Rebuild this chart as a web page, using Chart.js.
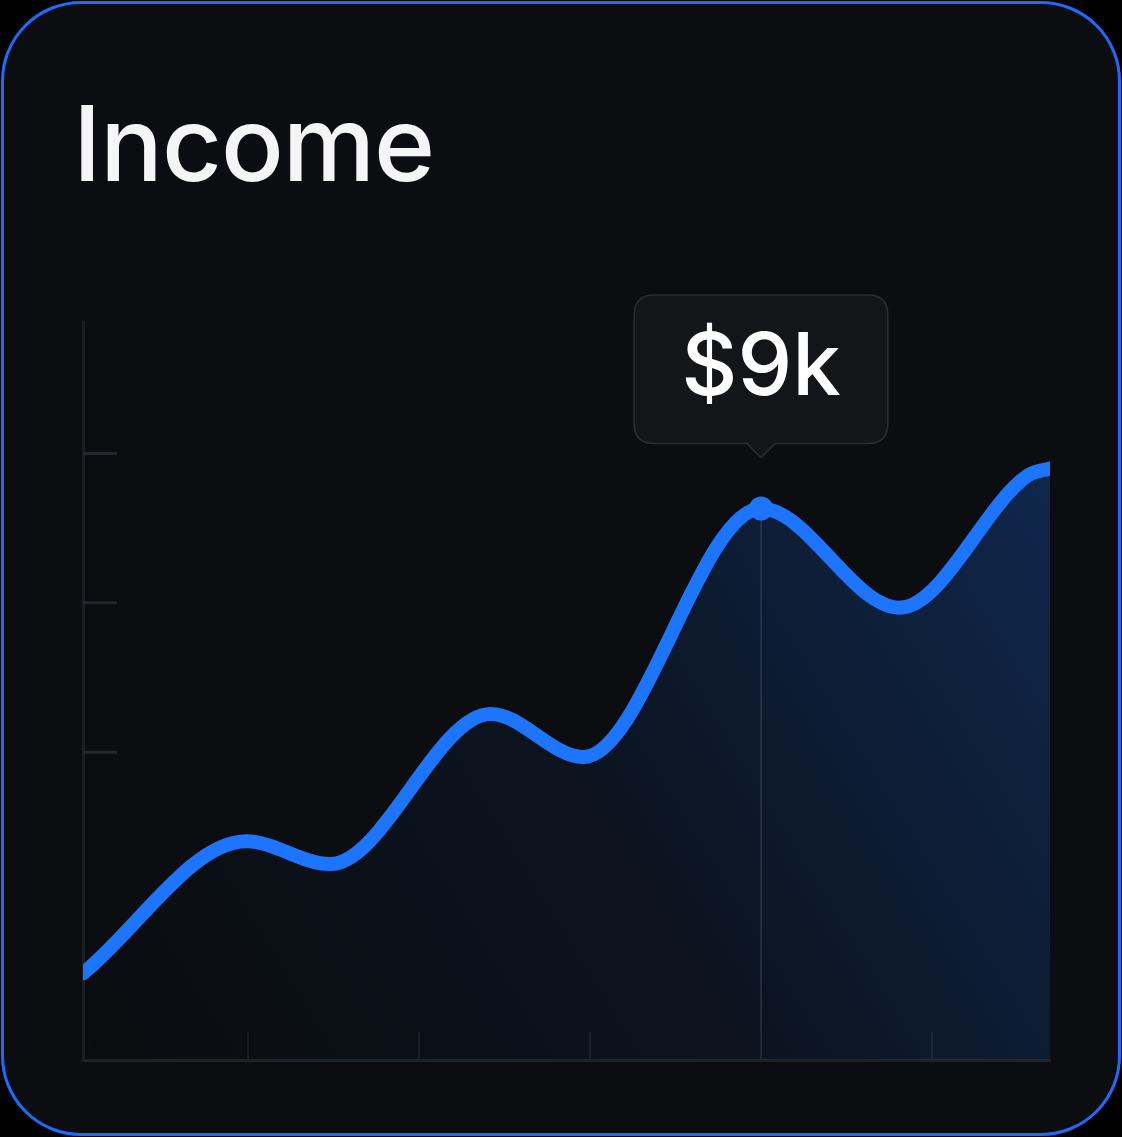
<!DOCTYPE html>
<html>
<head>
<meta charset="utf-8">
<script src="https://cdn.jsdelivr.net/npm/chart.js@4.4.1/dist/chart.umd.min.js"></script>
<style>
  html, body { margin: 0; padding: 0; background: #000; }
  #wrap { position: relative; width: 1122px; height: 1137px; overflow: hidden; }
  #card {
    position: absolute; left: 1px; top: 1px; width: 1114px; height: 1129px;
    border: 3px solid #1c6cfb; border-radius: 80px; background: #0b0d10;
  }
  #title {
    position: absolute; left: 73px; top: 80px; margin: 0;
    font-family: Inter, "Noto Sans", sans-serif; font-weight: 500; font-size: 104px;
    color: #f5f5f5; letter-spacing: -1px;
  }
  #box { position: absolute; left: 0; top: 0; width: 1122px; height: 1137px; }
</style>
</head>
<body>
<div id="wrap">
  <div id="card"></div>
  <div id="title">Income</div>
  <div id="box"><canvas id="incomeChart"></canvas></div>
</div>
<script>
// ================= Data =================
// x position in tick units, value in $k
const months = [0.035, 0.99, 1.48, 2.42, 2.96, 4.0, 4.81, 5.56, 5.69];
const income = [1.30, 3.51, 3.13, 5.64, 4.92, 9.08, 7.42, 9.63, 9.75];
const xTicks = [1, 2, 3, 4, 5];
const yTicks = [5, 7.5, 10];
const peakIndex = 5;

const lineBlue = '#1e75fd';

// ================= Helpers =================
// vertical marker under the peak + inward tick marks
const markerPlugin = {
    id: 'marker',
    beforeDatasetsDraw(chart) {
        const { ctx, chartArea, scales } = chart;
        const px = scales.x.getPixelForValue(months[peakIndex]);
        const py = scales.y.getPixelForValue(income[peakIndex]);
        ctx.save();
        ctx.strokeStyle = '#2a2f37';
        ctx.lineWidth = 1.5;
        ctx.beginPath();
        ctx.moveTo(px, py);
        ctx.lineTo(px, chartArea.bottom);
        ctx.stroke();

        ctx.strokeStyle = '#24272d';
        ctx.lineWidth = 3;
        yTicks.forEach(v => {
            const y = scales.y.getPixelForValue(v);
            ctx.beginPath();
            ctx.moveTo(chartArea.left, y);
            ctx.lineTo(chartArea.left + 34, y);
            ctx.stroke();
        });
        ctx.strokeStyle = '#1f2328';
        ctx.lineWidth = 1.5;
        xTicks.forEach(v => {
            const x = scales.x.getPixelForValue(v);
            ctx.beginPath();
            ctx.moveTo(x, chartArea.bottom);
            ctx.lineTo(x, chartArea.bottom - 28);
            ctx.stroke();
        });
        ctx.restore();
    }
};

// ================= Chart =================
const ctx = document.getElementById('incomeChart').getContext('2d');
const chart = new Chart(ctx, {
    type: 'line',
    data: {
        datasets: [{
            label: 'Income',
            data: months.map((m, i) => ({ x: m, y: income[i] })),
            borderColor: lineBlue,
            borderWidth: 14,
            borderCapStyle: 'round',
            borderJoinStyle: 'round',
            cubicInterpolationMode: 'monotone',
            fill: 'start',
            backgroundColor: function(context) {
                const area = context.chart.chartArea;
                if (!area) return 'rgba(30,110,240,0.1)';
                const g = context.chart.ctx.createLinearGradient(area.left, area.bottom, area.right, area.top + 140);
                g.addColorStop(0, 'rgba(30,110,240,0.0)');
                g.addColorStop(0.5, 'rgba(30,110,240,0.07)');
                g.addColorStop(1, 'rgba(30,110,240,0.27)');
                return g;
            },
            pointRadius: c => c.dataIndex === peakIndex ? 12 : 0,
            pointHoverRadius: c => c.dataIndex === peakIndex ? 12 : 0,
            pointBackgroundColor: lineBlue,
            pointHoverBackgroundColor: lineBlue,
            pointBorderWidth: 0,
            pointHoverBorderWidth: 0
        }]
    },
    options: {
        responsive: true,
        maintainAspectRatio: false,
        animation: false,
        events: [],
        layout: { padding: { left: 83, right: 72, top: 322, bottom: 77 } },
        scales: {
            x: {
                type: 'linear',
                min: months[0],
                max: months[months.length - 1],
                grid: { display: false, drawTicks: false },
                border: { display: true, color: '#1e2227', width: 3 },
                ticks: { display: false }
            },
            y: {
                min: -0.15,
                max: 12.2,
                grid: { display: false, drawTicks: false },
                border: { display: true, color: '#1b1e23', width: 3 },
                ticks: { display: false }
            }
        },
        plugins: {
            legend: { display: false },
            tooltip: {
                enabled: true,
                xAlign: 'center',
                yAlign: 'bottom',
                backgroundColor: '#131519',
                borderColor: '#2b2e34',
                borderWidth: 1.5,
                cornerRadius: 20,
                caretSize: 14,
                caretPadding: 51,
                padding: { left: 47, right: 47, top: 22, bottom: 22 },
                displayColors: false,
                bodyColor: '#ffffff',
                bodyFont: { family: 'Inter', size: 87, weight: 500 },
                callbacks: {
                    title: () => '',
                    label: item => '$' + Math.round(item.parsed.y) + 'k'
                }
            }
        }
    },
    plugins: [markerPlugin]
});

const active = [{ datasetIndex: 0, index: peakIndex }];
chart.setActiveElements(active);
chart.tooltip.setActiveElements(active, {
    x: chart.scales.x.getPixelForValue(months[peakIndex]),
    y: chart.scales.y.getPixelForValue(income[peakIndex])
});
chart.update();
</script>
</body>
</html>
